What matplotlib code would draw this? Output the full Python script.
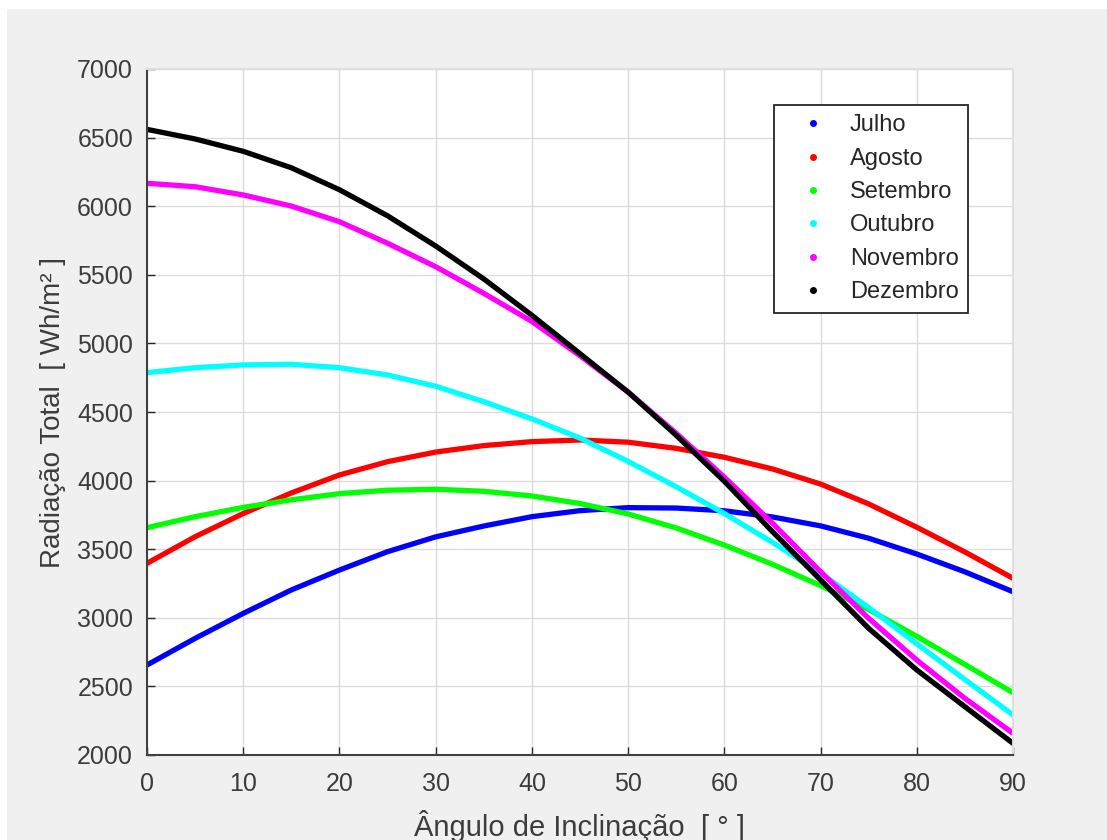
import numpy as np
import matplotlib.pyplot as plt
from matplotlib.lines import Line2D
from matplotlib.patches import Rectangle

# Angles (degrees) and total radiation, every 5 degrees
angulo = np.arange(0, 91, 5)

julho = [2656, 2850, 3032, 3203, 3348, 3482, 3590, 3669, 3737, 3781,
         3803, 3800, 3780, 3735, 3670, 3580, 3465, 3335, 3190]
agosto = [3397, 3591, 3760, 3910, 4041, 4138, 4208, 4255, 4284, 4296,
          4280, 4235, 4170, 4085, 3975, 3830, 3660, 3480, 3288]
setembro = [3657, 3737, 3805, 3860, 3905, 3930, 3937, 3922, 3888, 3833,
            3757, 3655, 3530, 3390, 3235, 3060, 2865, 2660, 2454]
outubro = [4787, 4823, 4843, 4848, 4823, 4770, 4688, 4575, 4450, 4310,
           4140, 3955, 3760, 3550, 3325, 3075, 2810, 2550, 2292]
novembro = [6167, 6142, 6082, 6001, 5887, 5730, 5559, 5365, 5160, 4910,
            4645, 4345, 4025, 3690, 3336, 2996, 2692, 2413, 2158]
dezembro = [6560, 6490, 6400, 6280, 6120, 5930, 5710, 5470, 5205, 4925,
            4645, 4330, 3995, 3628, 3276, 2923, 2620, 2352, 2085]

meses = ['Julho', 'Agosto', 'Setembro', 'Outubro', 'Novembro', 'Dezembro']
series = [julho, agosto, setembro, outubro, novembro, dezembro]
cores = ['#0000ff', '#ff0000', '#00ff00', '#00ffff', '#ff00ff', '#000000']

plt.rcParams['font.family'] = ['Liberation Sans', 'DejaVu Sans']

fig = plt.figure(figsize=(11.07, 8.4), dpi=100, facecolor='white')
# MATLAB-style grey figure background (slightly cropped screenshot)
fig.patches.append(Rectangle((7 / 1107, 0), 1, 1 - 9 / 840,
                             transform=fig.transFigure,
                             facecolor='#f0f0f0', edgecolor='none', zorder=-1))

ax = fig.add_axes([147 / 1107, 1 - 755 / 840, 866 / 1107, 686 / 840])
ax.set_facecolor('white')

for valores, cor in zip(series, cores):
    ax.plot(angulo, valores, color=cor, linewidth=3.8,
            solid_capstyle='round', solid_joinstyle='round')

ax.set_xlim(0, 90)
ax.set_ylim(2000, 7000)
ax.set_xticks(np.arange(0, 91, 10))
ax.set_yticks(np.arange(2000, 7001, 500))
ax.grid(True, color='#dcdcdc', linewidth=1.0)
ax.set_axisbelow(True)

ax.tick_params(direction='in', length=6, width=1, colors='#262626',
               labelsize=18, labelcolor='#3c3c3c')
ax.tick_params(axis='x', pad=12)
ax.tick_params(axis='y', pad=10)
for lado in ['left', 'bottom']:
    ax.spines[lado].set_color('#404040')
    ax.spines[lado].set_linewidth(1.5)
for lado in ['top', 'right']:
    ax.spines[lado].set_color('#dedede')
    ax.spines[lado].set_linewidth(1.5)

ax.set_xlabel('Ângulo de Inclinação  [ ° ]', fontsize=21, color='#3c3c3c',
              labelpad=10)
ax.set_ylabel('Radiação Total  [ Wh/m² ]', fontsize=20, color='#3c3c3c',
              labelpad=8)

marcadores = [Line2D([], [], linestyle='none', marker='.', markersize=8,
                     color=c) for c in cores]
leg = ax.legend(marcadores, meses, loc='upper right',
                bbox_to_anchor=(0.948, 0.9475), fontsize=17, frameon=True,
                fancybox=False, framealpha=1, edgecolor='#262626',
                handlelength=2.5, handletextpad=0.32, borderpad=0.4,
                labelspacing=0.48, borderaxespad=0)
leg.get_frame().set_linewidth(1.3)
for t in leg.get_texts():
    t.set_color('#262626')

fig.savefig('out.png', dpi=100, facecolor=fig.get_facecolor())
